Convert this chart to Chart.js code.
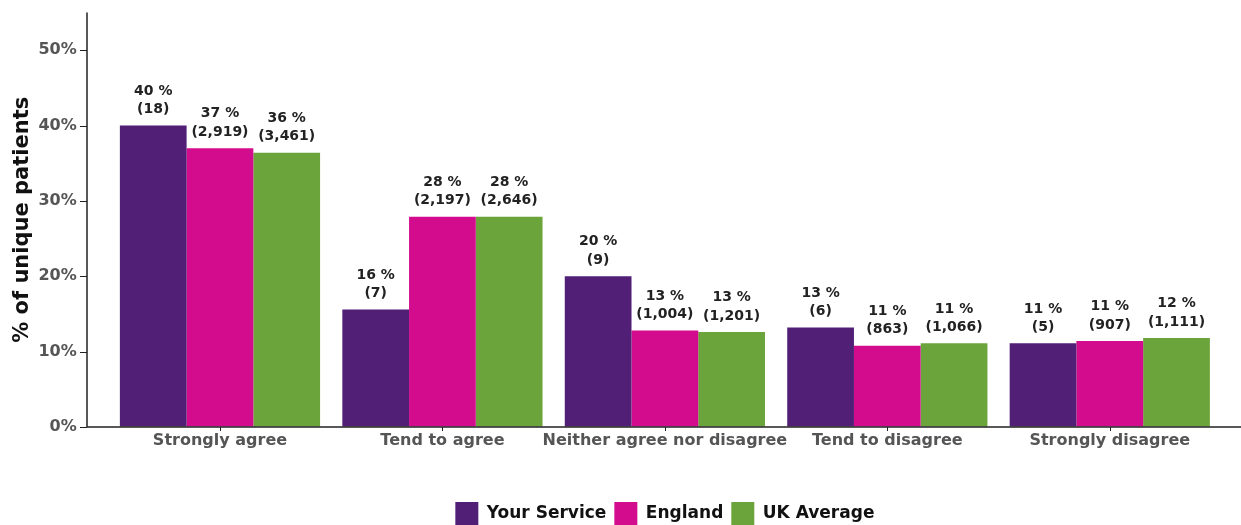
<!DOCTYPE html>
<html>
<head>
<meta charset="utf-8">
<script src="https://cdn.jsdelivr.net/npm/chart.js@4.4.1/dist/chart.umd.min.js"></script>
<style>
  html, body { margin: 0; padding: 0; background: #fff; }
  #wrap { width: 1241px; height: 525px; position: relative; }
</style>
</head>
<body>
<div id="wrap"><canvas id="chart"></canvas></div>
<script>
const categories = ["Strongly agree", "Tend to agree", "Neither agree nor disagree", "Tend to disagree", "Strongly disagree"];
const yourService = [40, 15.6, 20, 13.2, 11.1];
const england     = [37, 27.9, 12.8, 10.8, 11.4];
const ukAverage   = [36.4, 27.9, 12.6, 11.1, 11.8];
const yourCounts    = [18, 7, 9, 6, 5];
const englandCounts = [2919, 2197, 1004, 863, 907];
const ukCounts      = [3461, 2646, 1201, 1066, 1111];
const yTicks = [0, 10, 20, 30, 40, 50];

const FONT = "'DejaVu Sans', sans-serif";
const counts = [yourCounts, englandCounts, ukCounts];

// axis lines + tick marks drawn by hand (y axis line sits left of the plot area)
const axisLines = {
  id: "axisLines",
  afterDraw(chart) {
    const { ctx, chartArea, scales } = chart;
    const y = scales.y, x = scales.x;
    const axisX = 87;
    ctx.save();
    ctx.strokeStyle = "#222";
    ctx.lineWidth = 1.5;
    ctx.beginPath();
    ctx.moveTo(axisX, chartArea.top);
    ctx.lineTo(axisX, y.getPixelForValue(0));
    ctx.lineTo(chart.width, y.getPixelForValue(0));
    ctx.stroke();
    ctx.lineWidth = 1;
    yTicks.forEach(v => {
      const py = Math.round(y.getPixelForValue(v)) + 0.5;
      ctx.beginPath();
      ctx.moveTo(axisX - 7, py);
      ctx.lineTo(axisX, py);
      ctx.stroke();
    });
    categories.forEach((c, i) => {
      const px = Math.round(x.getPixelForValue(i)) + 0.5;
      const by = y.getPixelForValue(0);
      ctx.beginPath();
      ctx.moveTo(px, by);
      ctx.lineTo(px, by + 4);
      ctx.stroke();
    });
    ctx.restore();
  }
};

// two-line value labels above each bar
const barLabels = {
  id: "barLabels",
  afterDatasetsDraw(chart) {
    const { ctx } = chart;
    ctx.save();
    ctx.font = "bold 14px " + FONT;
    ctx.fillStyle = "#222";
    ctx.textAlign = "center";
    ctx.textBaseline = "bottom";
    chart.data.datasets.forEach((ds, di) => {
      chart.getDatasetMeta(di).data.forEach((bar, i) => {
        const pct = Math.round(ds.data[i]) + " %";
        const n = "(" + counts[di][i].toLocaleString("en-GB") + ")";
        ctx.fillText(n, bar.x, bar.y - 9);
        ctx.fillText(pct, bar.x, bar.y - 27.5);
      });
    });
    ctx.restore();
  }
};

new Chart(document.getElementById("chart"), {
  type: "bar",
  data: {
    labels: categories,
    datasets: [
      { label: "Your Service", data: yourService, backgroundColor: "#521f76" },
      { label: "England", data: england, backgroundColor: "#d30b8d" },
      { label: "UK Average", data: ukAverage, backgroundColor: "#6aa43a" }
    ]
  },
  options: {
    responsive: true,
    maintainAspectRatio: false,
    animation: false,
    layout: { padding: { top: 10, right: 20, left: 0, bottom: -10 } },
    datasets: { bar: { categoryPercentage: 0.9, barPercentage: 1.0 } },
    plugins: {
      tooltip: { enabled: false },
      legend: {
        position: "bottom",
        fullSize: false,
        labels: {
          boxWidth: 23,
          boxHeight: 23,
          padding: 8,
          color: "#111",
          font: { family: FONT, size: 17, weight: "bold" }
        }
      }
    },
    scales: {
      x: {
        grid: { display: false, drawTicks: false },
        border: { display: false },
        ticks: {
          color: "#555",
          padding: 4,
          maxRotation: 0,
          autoSkip: false,
          font: { family: FONT, size: 16, weight: "bold" }
        },
        afterFit: s => { s.height = 67; }
      },
      y: {
        min: 0,
        max: 55,
        grid: { display: true, drawOnChartArea: false, drawTicks: true, tickLength: 29, color: "transparent" },
        border: { display: false },
        ticks: {
          stepSize: 10,
          color: "#555",
          padding: 3,
          font: { family: FONT, size: 16, weight: "bold" },
          callback: v => (v % 10 === 0 ? v + "%" : null)
        },
        title: {
          display: true,
          text: "% of unique patients",
          color: "#111",
          padding: { top: 10, bottom: 0 },
          font: { family: FONT, size: 21, weight: "bold" }
        },
        afterFit: s => { s.width = 108.75; }
      }
    }
  },
  plugins: [axisLines, barLabels]
});
</script>
</body>
</html>
